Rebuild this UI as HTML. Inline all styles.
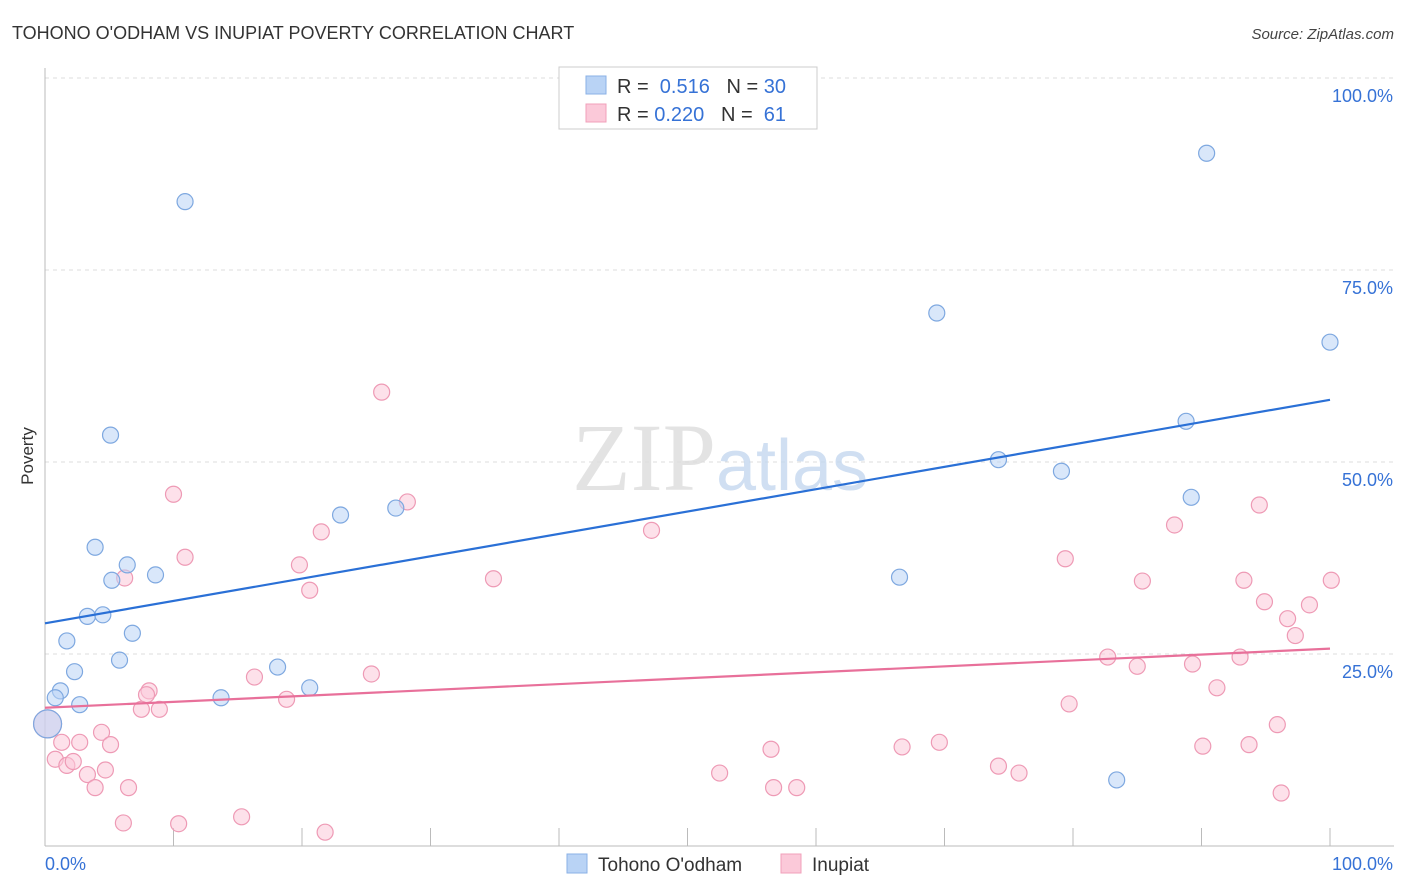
<!DOCTYPE html>
<html><head><meta charset="utf-8"><style>
body{margin:0;background:#fff;font-family:"Liberation Sans",sans-serif;}
svg{display:block}
</style></head><body>
<svg width="1406" height="892" xmlns="http://www.w3.org/2000/svg">
<text x="12" y="39" font-size="18" fill="#333">TOHONO O'ODHAM VS INUPIAT POVERTY CORRELATION CHART</text>
<text x="1394" y="39" font-size="15" fill="#444" text-anchor="end" font-style="italic">Source: ZipAtlas.com</text>
<g id="grid"></g>
<text x="720" y="490" font-size="96" fill="#ddd" text-anchor="middle" font-family="Liberation Serif" opacity="0.8">ZIP<tspan fill="#c5d8ef" font-family="Liberation Sans" font-size="72">atlas</tspan></text>
<text transform="translate(33,456) rotate(-90)" font-size="17" fill="#333" text-anchor="middle">Poverty</text>
<g id="marks"></g>
<g>
<rect x="559" y="67" width="258" height="62" fill="#fff" stroke="#ccc"/>
<rect x="586" y="76" width="20" height="18" fill="#b9d3f5" stroke="#8ab0e6"/>
<rect x="586" y="104" width="20" height="18" fill="#fbc9d9" stroke="#f0a0ba"/>
<text x="617" y="93" font-size="20" fill="#333">R = <tspan fill="#3672d6">&#160;0.516</tspan>&#160;&#160;&#160;N = <tspan fill="#3672d6">30</tspan></text>
<text x="617" y="121" font-size="20" fill="#333">R = <tspan fill="#3672d6">0.220</tspan>&#160;&#160;&#160;N = <tspan fill="#3672d6">&#160;61</tspan></text>
</g>
<g>
<rect x="567" y="854" width="20" height="19" fill="#b9d3f5" stroke="#8ab0e6"/>
<text x="598" y="871" font-size="19" fill="#333">Tohono O'odham</text>
<rect x="781" y="854" width="20" height="19" fill="#fbc9d9" stroke="#f0a0ba"/>
<text x="812" y="871" font-size="19" fill="#333">Inupiat</text>
</g>
</svg>
<script>
const yTicks=[25,50,75,100];
const yTickLabels=["25.0%","50.0%","75.0%","100.0%"];
const xTickLabels=["0.0%","100.0%"];
const blueX=[10.9,5.1,3.9,6.4,5.2,8.6,3.3,4.5,1.7,6.8,5.8,2.3,1.2,0.8,2.7,13.7,18.1,20.6,23.0,27.3,66.5,69.4,74.2,79.1,83.4,88.8,89.2,90.4,100,0.2];
const blueY=[83.9,53.5,38.9,36.6,34.6,35.3,29.9,30.1,26.7,27.7,24.2,22.7,20.2,19.3,18.4,19.3,23.3,20.6,43.1,44.0,35.0,69.4,50.3,48.8,8.6,55.3,45.4,90.2,65.6,15.9];
const pinkX=[26.2,10.0,28.2,21.5,10.9,19.8,20.6,6.2,34.9,47.2,16.3,25.4,18.8,8.1,7.9,7.5,8.9,4.4,5.1,2.7,1.3,0.8,1.7,2.2,3.3,4.7,3.9,6.5,6.1,10.4,15.3,21.8,52.5,56.5,56.7,58.5,66.7,69.6,74.2,75.8,79.4,79.7,82.7,85.0,85.4,87.9,89.3,90.1,91.2,93.0,93.3,93.7,94.5,94.9,95.9,96.2,96.7,97.3,98.4,100.1,0.2];
const pinkY=[59.1,45.8,44.8,40.9,37.6,36.6,33.3,34.9,34.8,41.1,22.0,22.4,19.1,20.2,19.7,17.8,17.8,14.8,13.2,13.5,13.5,11.3,10.5,11.0,9.3,9.9,7.6,7.6,3.0,2.9,3.8,1.8,9.5,12.6,7.6,7.6,12.9,13.5,10.4,9.5,37.4,18.5,24.6,23.4,34.5,41.8,23.7,13.0,20.6,24.6,34.6,13.2,44.4,31.8,15.8,6.9,29.6,27.4,31.4,34.6,15.9];
const blueTrend=[0,29.0,100,58.1];
const pinkTrend=[0,18.0,100,25.7];
const X=v=>45+v*12.85, Y=v=>846-v*7.68;
const NS="http://www.w3.org/2000/svg";
const grid=document.getElementById('grid'), marks=document.getElementById('marks');
function mk(tag,a,p){const e=document.createElementNS(NS,tag);for(const k in a)e.setAttribute(k,a[k]);p.appendChild(e);return e;}
yTicks.forEach((t,i)=>{
 const l=mk('line',{x1:45,x2:1394,y1:Y(t),y2:Y(t),stroke:'#ddd','stroke-dasharray':'4,4'},grid);
 
 
 const tx=mk('text',{x:1393,y:Y(t)+24,'font-size':18,fill:'#3672d6','text-anchor':'end'},grid);
 tx.textContent=yTickLabels[i];
 
 
});
const ax=mk('line',{x1:45,x2:1394,y1:846,y2:846,stroke:'#bbb'},grid);


const ay=mk('line',{x1:45,x2:45,y1:68,y2:846,stroke:'#bbb'},grid);


for(let i=0;i<=10;i++){const t=mk('line',{x1:X(i*10),x2:X(i*10),y1:828,y2:846,stroke:'#bbb'},grid);
 
 }
[[0,'start',45],[1,'end',1393]].forEach(([i,a,x])=>{const t=mk('text',{x:x,y:870,'font-size':18,fill:'#3672d6','text-anchor':a},grid);t.textContent=xTickLabels[i];
 
 });
function pts(xs,ys,fill,stroke,name){xs.forEach((x,i)=>{const c=mk('circle',{cx:X(x),cy:Y(ys[i]),r:i==xs.length-1?14:8,fill:fill,'fill-opacity':0.55,stroke:stroke,'stroke-width':1.2},marks);
 
 });}
pts(pinkX,pinkY,'#fbc9d9','#ee9ab5','inupiat-point');
pts(blueX,blueY,'#b9d3f5','#7ea8e0','tohono-point');
const bl=mk('line',{x1:X(blueTrend[0]),y1:Y(blueTrend[1]),x2:X(blueTrend[2]),y2:Y(blueTrend[3]),stroke:'#2a70d6','stroke-width':2.2},marks);


const pl=mk('line',{x1:X(pinkTrend[0]),y1:Y(pinkTrend[1]),x2:X(pinkTrend[2]),y2:Y(pinkTrend[3]),stroke:'#e8709a','stroke-width':2.2},marks);


</script>
</body></html>
